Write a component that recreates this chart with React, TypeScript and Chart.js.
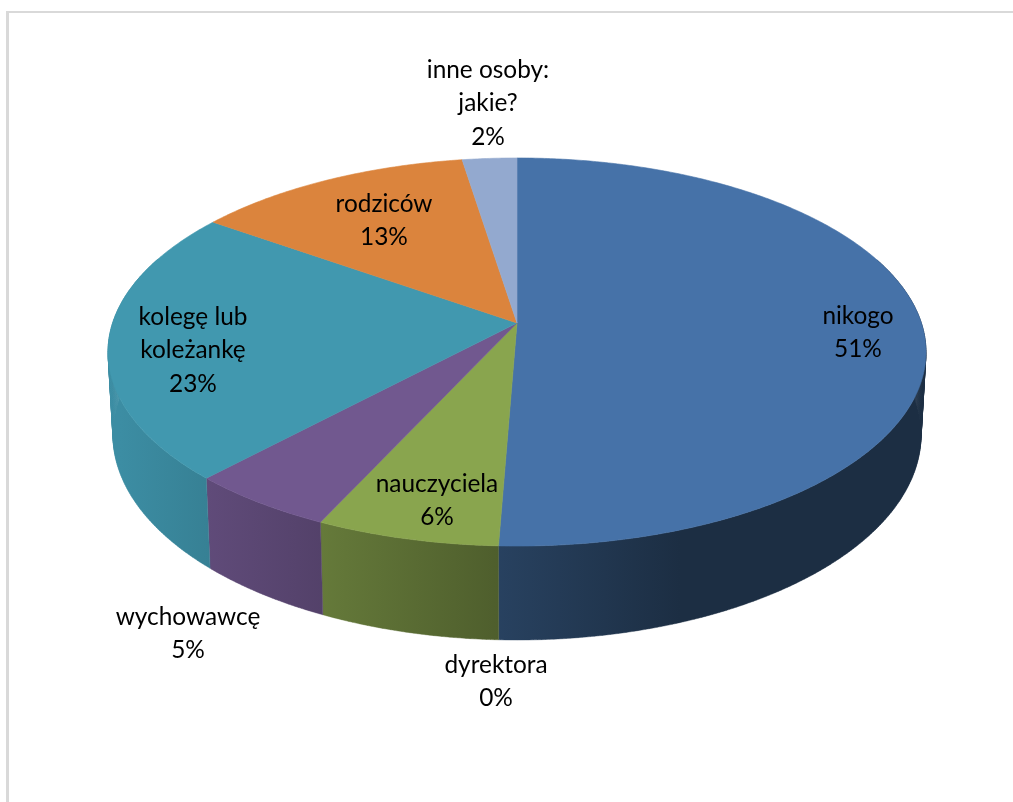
import React, { useEffect, useRef } from "react";
import { Chart, ArcElement, DoughnutController } from "chart.js";

const categories: string[][] = [
  ["nikogo"],
  ["dyrektora"],
  ["nauczyciela"],
  ["wychowawcę"],
  ["kolegę lub", "koleżankę"],
  ["rodziców"],
  ["inne osoby:", "jakie?"],
];
const shares = [50.62, 0, 6.28, 5.1, 22.8, 12.71, 2.49];
const sliceColors = ["#4672a8", "#aa4643", "#89a54e", "#71588f", "#4198af", "#db843d", "#93a9cf"];
// centre x and y of the first text line of each data label
const labelX = [858, 496, 437, 188, 193, 384, 488];
const labelY = [316, 665, 484, 617, 317, 204, 70];
const LINE_HEIGHT = 33.5;
const LABEL_FONT = "24.4px Lato";

const TOP_RIM = { cx: 517, cy: 323, a: 189.7, b: 404.4, k: 0.1495 };
const BOTTOM_RIM = { cx: 517, cy: 404.4, a: 200.4, b: 399.5, k: 0.1495 };

type Rim = typeof TOP_RIM;

function project(r: Rim, angle: number): [number, number] {
  const x = Math.cos(angle);
  const y = Math.sin(angle);
  const w = 1 - r.k * y;
  return [r.cx + (r.b * x) / w, r.cy + (r.a * y) / w];
}

function shade(hex: string, f: number): string {
  const n = parseInt(hex.slice(1), 16);
  const c = [(n >> 16) & 255, (n >> 8) & 255, n & 255].map((v) => Math.round(v * f));
  return `rgb(${c[0]},${c[1]},${c[2]})`;
}

const STEP = Math.PI / 360;
const BACK_LIMIT = -0.35;

class PerspectiveArc extends ArcElement {
  static id = "perspectiveArc";
  draw(ctx: CanvasRenderingContext2D) {
    const { startAngle, endAngle } = this as any;
    if (endAngle - startAngle <= 0) return;
    const color = (this as any).options.backgroundColor;
    ctx.save();
    ctx.beginPath();
    ctx.moveTo(TOP_RIM.cx, TOP_RIM.cy);
    for (let a = startAngle; a < endAngle; a += STEP) {
      const p = project(TOP_RIM, a);
      ctx.lineTo(p[0], p[1]);
    }
    const e = project(TOP_RIM, endAngle);
    ctx.lineTo(e[0], e[1]);
    ctx.closePath();
    ctx.fillStyle = color;
    ctx.strokeStyle = color;
    ctx.lineWidth = 0.6;
    ctx.fill();
    ctx.stroke();
    ctx.restore();
  }
}

class Pie3DController extends DoughnutController {
  static id = "pie3d";
  static defaults = { ...DoughnutController.defaults, dataElementType: "perspectiveArc" };
  draw() {
    const ctx = (this as any)._ctx as CanvasRenderingContext2D;
    const els = (this as any)._cachedMeta.data as any[];
    ctx.save();
    ctx.lineWidth = 0.4;
    for (const el of els) {
      const { startAngle, endAngle } = el;
      if (endAngle - startAngle <= 0) continue;
      const color = el.options.backgroundColor;
      const g = ctx.createLinearGradient(120, 0, 680, 0);
      g.addColorStop(0, shade(color, 0.93));
      g.addColorStop(1, shade(color, 0.4));
      ctx.beginPath();
      for (let a = startAngle; a < endAngle - 1e-6; a += STEP) {
        const b = Math.min(a + STEP, endAngle);
        if (Math.sin((a + b) / 2) < BACK_LIMIT) continue;
        const t0 = project(TOP_RIM, a);
        const t1 = project(TOP_RIM, b);
        const b0 = project(BOTTOM_RIM, a);
        const b1 = project(BOTTOM_RIM, b);
        ctx.moveTo(t0[0], t0[1]);
        ctx.lineTo(t1[0], t1[1]);
        ctx.lineTo(b1[0], b1[1]);
        ctx.lineTo(b0[0], b0[1]);
        ctx.closePath();
      }
      ctx.fillStyle = g;
      ctx.strokeStyle = g;
      ctx.fill();
      ctx.stroke();
    }
    ctx.restore();
    super.draw();
  }
}

Chart.register(ArcElement, PerspectiveArc, DoughnutController, Pie3DController);

const framePlugin = {
  id: "frame",
  beforeDraw(chart: any) {
    const { ctx, width, height } = chart;
    ctx.save();
    ctx.fillStyle = "#d9d9d9";
    ctx.fillRect(6, 11, width - 6, 2);
    ctx.fillRect(6, 11, 3, height - 11);
    ctx.restore();
  },
};

const labelPlugin = {
  id: "sliceLabels",
  afterDatasetsDraw(chart: any) {
    const { ctx } = chart;
    const values: number[] = chart.data.datasets[0].data;
    const total = values.reduce((s, v) => s + v, 0);
    ctx.save();
    ctx.font = LABEL_FONT;
    ctx.fillStyle = "#000000";
    ctx.textAlign = "center";
    ctx.textBaseline = "middle";
    chart.data.labels.forEach((lines: string[], i: number) => {
      const pct = `${Math.round((values[i] / total) * 100)}%`;
      [...lines, pct].forEach((t, j) => ctx.fillText(t, labelX[i], labelY[i] + j * LINE_HEIGHT));
    });
    ctx.restore();
  },
};

export default function App() {
  const ref = useRef<HTMLCanvasElement>(null);
  useEffect(() => {
    const chart = new Chart(ref.current!, {
      type: "pie3d" as any,
      data: {
        labels: categories as any,
        datasets: [{ data: shares, backgroundColor: sliceColors, borderWidth: 0 }],
      },
      options: {
        animation: false,
        responsive: false,
        events: [],
        plugins: { legend: { display: false }, tooltip: { enabled: false } },
      } as any,
      plugins: [framePlugin, labelPlugin],
    });
    return () => chart.destroy();
  }, []);
  return (
    <canvas
      ref={ref}
      width={1013}
      height={802}
      style={{ position: "absolute", left: 0, top: 0, display: "block", background: "#ffffff" }}
    />
  );
}
